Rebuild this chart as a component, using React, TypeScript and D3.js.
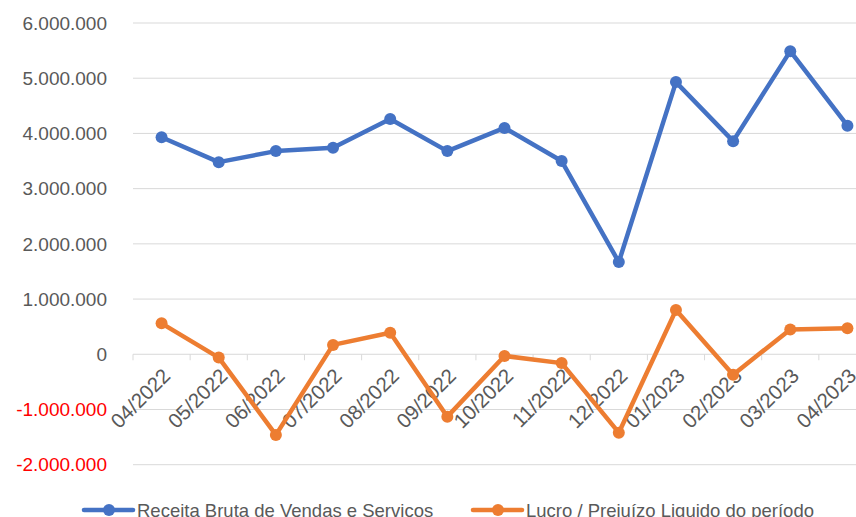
import * as d3 from 'd3';

const months = [
  '04/2022', '05/2022', '06/2022', '07/2022', '08/2022', '09/2022', '10/2022',
  '11/2022', '12/2022', '01/2023', '02/2023', '03/2023', '04/2023',
];
const receita = [
  3930000, 3480000, 3680000, 3740000, 4260000, 3680000, 4100000,
  3500000, 1670000, 4930000, 3860000, 5490000, 4140000,
];
const lucro = [
  560000, -60000, -1460000, 170000, 390000, -1130000, -30000,
  -160000, -1420000, 800000, -370000, 450000, 470000,
];
const yTicks = [-2000000, -1000000, 0, 1000000, 2000000, 3000000, 4000000, 5000000, 6000000];

const W = 856;
const H = 517;
const BLUE = '#4472C4';
const ORANGE = '#ED7D31';
const FONT = '"Liberation Sans", Arial, sans-serif';

const fmt = (v: number) =>
  v === 0 ? '0' : (v < 0 ? '-' : '') + d3.format(',')(Math.abs(v)).replace(/,/g, '.');

export default function App() {
  const x = d3.scaleBand<string>().domain(months).range([133, 876]);
  const y = d3.scaleLinear().domain([-2000000, 6000000]).range([464.7, 23]);
  const cx = (m: string) => (x(m) as number) + x.bandwidth() / 2;

  const line = d3
    .line<number>()
    .x((_, i) => cx(months[i]))
    .y((d) => y(d));

  const series = [
    { name: 'Receita Bruta de Vendas e Servicos', values: receita, color: BLUE, lx: 84 },
    { name: 'Lucro / Prejuízo Liquido do período', values: lucro, color: ORANGE, lx: 473 },
  ];

  return (
    <svg width={W} height={H} style={{ position: 'absolute', left: 0, top: 0 }} fontFamily={FONT}>
      <rect width={W} height={H} fill="#fff" />
      {yTicks.map((t) => (
        <g key={t}>
          {t !== 0 && <line x1={133} x2={W} y1={y(t)} y2={y(t)} stroke="#D9D9D9" strokeWidth={1} />}
          <text
            x={107}
            y={y(t)}
            dy="0.35em"
            textAnchor="end"
            fontSize={19}
            fill={t < 0 ? '#FF0000' : '#595959'}
          >
            {fmt(t)}
          </text>
        </g>
      ))}
      {/* category axis at zero */}
      <line x1={133} x2={W} y1={y(0)} y2={y(0)} stroke="#D9D9D9" strokeWidth={1} />
      {months.map((m) => (
        <line key={'t' + m} x1={x(m)} x2={x(m)} y1={y(0)} y2={y(0) + 6} stroke="#D9D9D9" />
      ))}
      {months.map((m) => (
        <text
          key={'l' + m}
          transform={`translate(${cx(m) + 5},${372}) rotate(-45)`}
          dy="0.35em"
          textAnchor="end"
          fontSize={20.5}
          fill="#595959"
        >
          {m}
        </text>
      ))}
      {series.map((s) => (
        <g key={s.name}>
          <path d={line(s.values) ?? ''} fill="none" stroke={s.color} strokeWidth={4.5} strokeLinejoin="round" />
          {s.values.map((v, i) => (
            <circle key={i} cx={cx(months[i])} cy={y(v)} r={6} fill={s.color} />
          ))}
        </g>
      ))}
      {series.map((s) => (
        <g key={'lg' + s.name}>
          <line x1={s.lx} x2={s.lx + 49} y1={510} y2={510} stroke={s.color} strokeWidth={4.5} strokeLinecap="round" />
          <circle cx={s.lx + 25} cy={510} r={6} fill={s.color} />
          <text x={s.lx + 53} y={517} fontSize={18.5} fill="#595959">
            {s.name}
          </text>
        </g>
      ))}
    </svg>
  );
}
